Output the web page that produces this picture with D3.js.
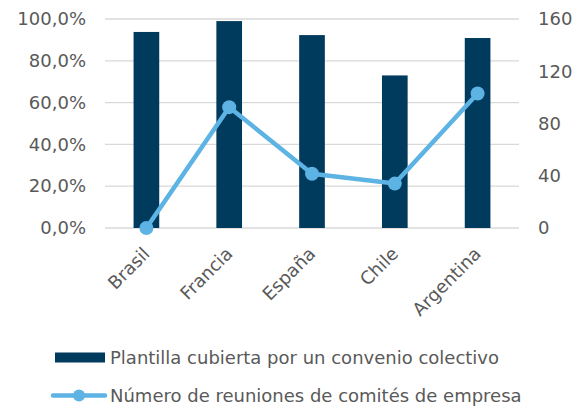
<!DOCTYPE html>
<html><head><meta charset="utf-8">
<script src="https://cdn.jsdelivr.net/npm/d3@7/dist/d3.min.js"></script>
<style>body{margin:0;background:#fff}svg{display:block}</style>
</head><body><svg id="c" width="583" height="409"></svg>
<script>
const categories = ["Brasil","Francia","España","Chile","Argentina"];
const coverage = [0.938, 0.99, 0.923, 0.73, 0.909];
const meetings = [0, 92.5, 41.5, 34, 103];
const leftTicks = [0,0.2,0.4,0.6,0.8,1.0];
const rightTicks = [0,40,80,120,160];
const seriesNames = ["Plantilla cubierta por un convenio colectivo","Número de reuniones de comités de empresa"];

const barColor = "#003a5c", lineColor = "#5cb3e4", textColor = "#595959", gridColor = "#d9d9d9";
const font = "Verdana, 'DejaVu Sans', sans-serif";
const fs = "18px";
const svg = d3.select("#c");
const L = 105, R = 519, T = 19, B = 228;
const x = d3.scaleBand().domain(categories).range([L,R]).paddingInner(0.69).paddingOuter(0.345);
const yL = d3.scaleLinear().domain([0,1]).range([B,T]);
const yR = d3.scaleLinear().domain([0,160]).range([B,T]);
const fmt = v => d3.format(".1f")(v*100).replace(".",",") + "%";

svg.append("g").selectAll("line").data(leftTicks).join("line")
  .attr("x1",L).attr("x2",R).attr("y1",d=>yL(d)).attr("y2",d=>yL(d))
  .attr("stroke",gridColor).attr("stroke-width",1.3);

const gl = svg.append("g").attr("transform",`translate(${L-19},0)`)
  .call(d3.axisLeft(yL).tickValues(leftTicks).tickFormat(fmt).tickSize(0).tickPadding(0));
gl.select(".domain").remove();
gl.selectAll("text").attr("fill",textColor).style("font-family",font).style("font-size",fs);

const gr = svg.append("g").attr("transform",`translate(${R+19},0)`)
  .call(d3.axisRight(yR).tickValues(rightTicks).tickSize(0).tickPadding(0));
gr.select(".domain").remove();
gr.selectAll("text").attr("fill",textColor).style("font-family",font).style("font-size",fs);

svg.append("g").selectAll("rect").data(categories).join("rect")
  .attr("x",d=>x(d)).attr("width",x.bandwidth())
  .attr("y",(d,i)=>yL(coverage[i])).attr("height",(d,i)=>B-yL(coverage[i]))
  .attr("fill",barColor);

const line = d3.line().x((d,i)=>x(categories[i])+x.bandwidth()/2).y(d=>yR(d));
svg.append("path").datum(meetings).attr("d",line).attr("fill","none")
  .attr("stroke",lineColor).attr("stroke-width",4.5).attr("stroke-linejoin","round");
svg.append("g").selectAll("circle").data(meetings).join("circle")
  .attr("cx",(d,i)=>x(categories[i])+x.bandwidth()/2).attr("cy",d=>yR(d)).attr("r",7)
  .attr("fill",lineColor);

svg.append("g").selectAll("text").data(categories).join("text")
  .attr("transform",d=>`translate(${x(d)+x.bandwidth()/2+4.5},${B+27}) rotate(-45)`)
  .attr("text-anchor","end")
  .attr("fill",textColor).style("font-family",font).style("font-size",fs).text(d=>d);

const lg = svg.append("g").style("font-family",font).style("font-size",fs).attr("fill",textColor);
lg.append("rect").attr("x",55).attr("y",352.5).attr("width",50).attr("height",10).attr("fill",barColor);
lg.append("text").attr("x",110).attr("y",363.5).text(seriesNames[0]);
lg.append("line").attr("x1",53).attr("x2",105).attr("y1",395.5).attr("y2",395.5).attr("stroke",lineColor).attr("stroke-width",4.5).attr("stroke-linecap","round");
lg.append("circle").attr("cx",79).attr("cy",395.5).attr("r",6).attr("fill",lineColor);
lg.append("text").attr("x",110).attr("y",402).text(seriesNames[1]);
</script></body></html>
